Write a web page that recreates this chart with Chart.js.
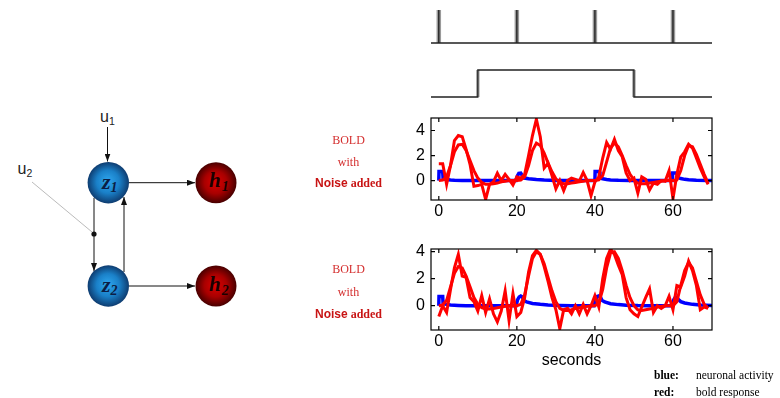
<!DOCTYPE html>
<html>
<head>
<meta charset="UTF-8">
<title>BOLD with noise</title>
<script src="https://cdn.jsdelivr.net/npm/chart.js@4/dist/chart.umd.min.js"></script>
<style>
  body { margin:0; background:#fff; width:780px; height:398px; position:relative; overflow:hidden; }
  canvas, svg, .t { position:absolute; }
  .t { font-family:"Liberation Serif", "Times New Roman", serif; font-size:12px; line-height:16px; height:16px; white-space:nowrap; }
  .red { left:298px; width:101px; text-align:center; color:#d42e2e; }
  .red.n { color:#c81414; font-weight:bold; }
  .red.n span { font-family:"Liberation Sans", Arial, sans-serif; }
  .leg { font-size:11.5px; color:#000; }
</style>
</head>
<body>

<svg width="260" height="398" style="left:0;top:0">
  <defs>
    <radialGradient id="gBlue" cx="50%" cy="50%" r="50%" fx="48%" fy="45%">
      <stop offset="0" stop-color="#2ea6ee"/>
      <stop offset="0.55" stop-color="#1a80c8"/>
      <stop offset="1" stop-color="#0e3c70"/>
    </radialGradient>
    <radialGradient id="gRed" cx="50%" cy="50%" r="50%" fx="48%" fy="48%">
      <stop offset="0" stop-color="#dc0000"/>
      <stop offset="0.55" stop-color="#a80000"/>
      <stop offset="1" stop-color="#480000"/>
    </radialGradient>
    <marker id="ah" markerWidth="8" markerHeight="6" refX="8" refY="3" orient="auto" markerUnits="userSpaceOnUse">
      <path d="M0,0 L8,3 L0,6 z" fill="#111"/>
    </marker>
  </defs>
  <!-- inputs -->
  <text x="100" y="121.5" font-family="Liberation Sans, Arial" font-size="16" fill="#222">u<tspan font-size="10.5" dy="3">1</tspan></text>
  <text x="17.5" y="173.5" font-family="Liberation Sans, Arial" font-size="16" fill="#222">u<tspan font-size="10.5" dy="3">2</tspan></text>
  <line x1="107.5" y1="127" x2="107.5" y2="161.5" stroke="#111" stroke-width="1" marker-end="url(#ah)"/>
  <line x1="32" y1="182" x2="92" y2="232" stroke="#aaa" stroke-width="0.8"/>
  <!-- connections -->
  <line x1="129" y1="182.7" x2="195" y2="182.7" stroke="#111" stroke-width="1" marker-end="url(#ah)"/>
  <line x1="129" y1="286" x2="195" y2="286" stroke="#111" stroke-width="1" marker-end="url(#ah)"/>
  <line x1="94" y1="198" x2="94" y2="271" stroke="#111" stroke-width="1" marker-end="url(#ah)"/>
  <line x1="124" y1="272" x2="124" y2="197" stroke="#111" stroke-width="1" marker-end="url(#ah)"/>
  <circle cx="94" cy="234" r="2.6" fill="#111"/>
  <!-- nodes -->
  <circle cx="108.3" cy="182.7" r="20.7" fill="url(#gBlue)"/>
  <circle cx="108.3" cy="286" r="20.7" fill="url(#gBlue)"/>
  <circle cx="216" cy="182.7" r="20.5" fill="url(#gRed)"/>
  <circle cx="216" cy="286" r="20.5" fill="url(#gRed)"/>
  <text x="102" y="188.5" font-family="Liberation Serif, serif" font-weight="bold" font-style="italic" font-size="22" fill="#0b1e45">z<tspan font-size="14" dy="3">1</tspan></text>
  <text x="102" y="291.5" font-family="Liberation Serif, serif" font-weight="bold" font-style="italic" font-size="22" fill="#0b1e45">z<tspan font-size="14" dy="3">2</tspan></text>
  <text x="209" y="187" font-family="Liberation Serif, serif" font-weight="bold" font-style="italic" font-size="21" fill="#1a0000">h<tspan font-size="14" dx="1" dy="4">1</tspan></text>
  <text x="209" y="290.5" font-family="Liberation Serif, serif" font-weight="bold" font-style="italic" font-size="21" fill="#1a0000">h<tspan font-size="14" dx="1" dy="4">2</tspan></text>
</svg>

<canvas id="u1" width="340" height="55" style="left:380px;top:0"></canvas>
<canvas id="u2" width="340" height="48" style="left:380px;top:58px"></canvas>
<canvas id="cTop" width="340" height="115" style="left:380px;top:108px"></canvas>
<canvas id="cBot" width="340" height="135" style="left:380px;top:239px"></canvas>

<div class="t red" style="top:132px">BOLD</div>
<div class="t red" style="top:153.7px">with</div>
<div class="t red n" style="top:174.7px"><span>Noise</span> added</div>
<div class="t red" style="top:261.3px">BOLD</div>
<div class="t red" style="top:283.7px">with</div>
<div class="t red n" style="top:306.3px"><span>Noise</span> added</div>

<div class="t leg" style="left:654px;top:367px;font-weight:bold">blue:</div>
<div class="t leg" style="left:696px;top:367px">neuronal activity</div>
<div class="t leg" style="left:654px;top:383.5px;font-weight:bold">red:</div>
<div class="t leg" style="left:696px;top:383.5px">bold response</div>

<script>
// time axis
const xMin = -2, xMax = 70;
const xTicks = [0, 20, 40, 60];
const yTicks = [0, 2, 4];

// stimuli
const u1Onsets = [0, 20, 40, 60];
const u2Block = [10, 50];

// bold samples, one per second
const secs = Array.from({length: 70}, (_, i) => i);

// region z1 (top panel)
const boldTop = [0, 0.05, 0.3, 1.2, 2.3, 2.85, 2.9, 2.4, 1.6, 0.8,
  0.2, -0.15, -0.3, -0.3, -0.25, -0.2, -0.1, -0.05, 0, 0,
  0, 0.05, 0.3, 1.2, 2.4, 3.0, 2.8, 2.2, 1.4, 0.7,
  0.15, -0.15, -0.25, -0.25, -0.2, -0.15, -0.1, -0.05, 0, 0,
  0, 0.05, 0.4, 1.5, 2.6, 3.0, 2.7, 2.0, 1.2, 0.5,
  0.05, -0.2, -0.25, -0.25, -0.2, -0.15, -0.1, -0.05, 0, 0,
  0, 0.05, 0.8, 2.0, 2.8, 2.7, 2.1, 1.3, 0.5, -0.2];
const noisyTop = [1.35, 1.35, -0.3, 1.2, 3.2, 3.6, 3.5, 2.5, 1.3, -0.45,
  -0.4, -0.3, -1.5, -0.3, -0.1, 0.6, 0.0, 0.5, 0.1, -0.35,
  0.3, 0.2, 0.5, 2.0, 3.6, 4.9, 3.5, 1.0, 1.4, 0.4,
  -0.65, 0.0, -0.8, 0.0, 0.2, 0.1, -0.05, 0.65, 0.0, -1.2,
  -0.1, 0.3, 1.8, 3.05, 2.5, 3.3, 2.4, 1.9, 0.6, 0.0,
  0.2, -1.0, 0.3, 0.1, -0.75, -0.2, -0.3, 0.0, -0.05, 0.8,
  -1.45, 0.5, 1.9, 2.3, 2.9, 2.6, 1.8, 1.0, 0.3, -0.3];
const neuroTop = [[0, 0], [0.05, 0.72], [1.0, 0.72], [1.1, 0.15], [2, 0.09], [3, 0.05], [4, 0.03], [6, 0.01], [8, 0],
  [19.8, 0], [20.1, 0.35], [20.5, 0.58], [21, 0.6], [21.3, 0.45], [21.6, 0.22], [23, 0.14], [25, 0.08], [27, 0.04], [30, 0.01], [33, 0],
  [40, 0], [40.05, 0.72], [41.1, 0.72], [41.3, 0.2], [42, 0.14], [43, 0.09], [44, 0.05], [46, 0.02], [49, 0],
  [59.8, 0], [59.9, 0.6], [61, 0.6], [61.2, 0.25], [62, 0.16], [63, 0.1], [64, 0.06], [66, 0.03], [69, 0.01], [70, 0]];

// region z2 (bottom panel)
const boldBot = [0, 0.05, 0.4, 1.4, 2.4, 2.9, 2.8, 2.2, 1.4, 0.6,
  0.1, -0.15, -0.25, -0.25, -0.2, -0.15, -0.1, -0.05, 0, 0,
  0, 0.1, 0.8, 2.2, 3.5, 4.0, 3.8, 3.1, 2.1, 1.1,
  0.3, -0.2, -0.35, -0.35, -0.3, -0.2, -0.15, -0.1, -0.05, 0,
  0, 0.2, 1.2, 2.8, 3.9, 4.0, 3.5, 2.6, 1.5, 0.6,
  0, -0.3, -0.35, -0.3, -0.25, -0.2, -0.1, -0.05, 0, 0,
  0, 0.3, 1.5, 2.6, 3.2, 2.8, 1.8, 0.8, 0.1, -0.2];
const noisyBot = [-0.8, 0.0, -0.5, 1.2, 2.8, 3.8, 2.2, 2.1, 0.6, 0.3,
  -0.4, 0.75, -0.5, 0.5, -0.6, -1.2, -0.4, 1.1, -1.1, 0.9,
  -0.8, -0.5, 0.6, 2.5, 3.7, 4.1, 3.8, 2.9, 1.8, 0.6,
  -0.3, -1.7, -0.3, -0.2, -0.6, 0.0, -0.6, 0.1, -0.6, 0.0,
  0.75, -0.1, 2.0, 3.5, 4.2, 3.8, 3.0, 2.3, 0.6, -0.3,
  -0.6, -0.8, -0.1, 0.6, 1.24, -0.5, 0.0, -0.2, 0.0, 0.7,
  -0.3, 1.5, 1.4, 2.2, 3.3, 2.6, 1.5, -0.3, -0.1, -0.2];
const neuroBot = [[0, 0], [0.05, 0.68], [1, 0.68], [1.1, 0.15], [2, 0.1], [3, 0.05], [5, 0.02], [7, 0],
  [19.8, 0], [20.2, 0.45], [20.6, 0.65], [21, 0.72], [21.4, 0.65], [21.8, 0.4], [22.5, 0.28], [24, 0.17], [26, 0.1], [28, 0.05], [31, 0.02], [34, 0],
  [39.8, 0], [40.2, 0.45], [40.6, 0.68], [41, 0.72], [41.4, 0.65], [41.8, 0.4], [42.5, 0.28], [44, 0.15], [46, 0.08], [48, 0.04], [51, 0.01], [54, 0],
  [59.8, 0], [60.2, 0.45], [60.6, 0.62], [61, 0.62], [61.4, 0.45], [62, 0.3], [63, 0.2], [65, 0.1], [67, 0.05], [70, 0.02]];

const FONT = '"Liberation Sans", Arial, sans-serif';
const xy = (t, v) => ({x: t, y: v});

// matlab style box with inward ticks
const frame = {
  id: 'frame',
  afterDraw(chart) {
    const {ctx, chartArea: a, scales: {x, y}} = chart;
    ctx.save();
    ctx.strokeStyle = '#000';
    ctx.lineWidth = 1.2;
    ctx.strokeRect(a.left, a.top, a.right - a.left, a.bottom - a.top);
    ctx.beginPath();
    xTicks.forEach(v => {
      const p = x.getPixelForValue(v);
      ctx.moveTo(p, a.bottom); ctx.lineTo(p, a.bottom - 4);
      ctx.moveTo(p, a.top); ctx.lineTo(p, a.top + 4);
    });
    y.ticks.forEach(t => {
      const p = y.getPixelForValue(t.value);
      ctx.moveTo(a.left, p); ctx.lineTo(a.left + 4, p);
      ctx.moveTo(a.right, p); ctx.lineTo(a.right - 4, p);
    });
    ctx.stroke();
    ctx.restore();
  }
};

function boldChart(id, yMin, yMax, neuro, bold, noisy, axisH, title) {
  new Chart(document.getElementById(id), {
    type: 'line',
    data: {
      datasets: [
        // higher order = drawn first, so red stays on top of blue
        {data: neuro.map(p => xy(p[0], p[1])), borderColor: '#0000ff', borderWidth: 3.5, order: 3},
        {data: bold.map((v, i) => xy(secs[i], v)), borderColor: '#ff0000', borderWidth: 3, order: 2},
        {data: noisy.map((v, i) => xy(secs[i], v)), borderColor: '#ff0000', borderWidth: 3, order: 1}
      ]
    },
    options: {
      responsive: false,
      animation: false,
      devicePixelRatio: 1,
      layout: {padding: {left: 0, right: 8, top: 10, bottom: 0}},
      plugins: {legend: {display: false}, tooltip: {enabled: false}},
      elements: {point: {radius: 0}, line: {tension: 0}},
      scales: {
        x: {
          type: 'linear', min: xMin, max: xMax,
          afterBuildTicks: s => { s.ticks = xTicks.map(v => ({value: v})); },
          afterFit: s => { s.height = axisH; s.paddingLeft = 0; s.paddingRight = 0; },
          grid: {display: false, drawTicks: false},
          border: {display: false},
          ticks: {font: {family: FONT, size: 16}, color: '#000', padding: 2, maxRotation: 0},
          title: {display: !!title, text: title || '', font: {family: FONT, size: 16}, color: '#000', padding: {top: 0, bottom: 4}}
        },
        y: {
          min: yMin, max: yMax,
          afterBuildTicks: s => { s.ticks = yTicks.map(v => ({value: v})); },
          afterFit: s => { s.width = 51; s.paddingTop = 0; s.paddingBottom = 0; },
          grid: {display: false, drawTicks: false},
          border: {display: false},
          ticks: {font: {family: FONT, size: 16}, color: '#000', padding: 6}
        }
      }
    },
    plugins: [frame]
  });
}

function stimChart(id, pad, datasets) {
  new Chart(document.getElementById(id), {
    type: 'line',
    data: {datasets: datasets},
    options: {
      responsive: false,
      animation: false,
      devicePixelRatio: 1,
      layout: {padding: pad},
      plugins: {legend: {display: false}, tooltip: {enabled: false}},
      elements: {point: {radius: 0}, line: {tension: 0}},
      scales: {
        x: {type: 'linear', min: xMin, max: xMax, display: false},
        y: {min: 0, max: 1, display: false}
      }
    }
  });
}

// u1: brief events
const spikes = u1Onsets.flatMap(t => [xy(t, 0), xy(t, 1), xy(t, null)]);
const u1Line = [xy(xMin, 0)].concat(u1Onsets.flatMap(t => [xy(t, 0), xy(t, 1), xy(t, 0)]), [xy(xMax, 0)]);
stimChart('u1', {left: 51, right: 8, top: 10, bottom: 12}, [
  {data: u1Line, borderColor: '#222', borderWidth: 1.4, clip: false, order: 1},
  {data: spikes, borderColor: '#9a9a9a', borderWidth: 4.5, spanGaps: false, clip: false, order: 2}
]);

// u2: sustained block
const edges = [xy(u2Block[0], 0), xy(u2Block[0], 1), xy(u2Block[0], null), xy(u2Block[1], 1), xy(u2Block[1], 0)];
const u2Line = [xy(xMin, 0), xy(u2Block[0], 0), xy(u2Block[0], 1), xy(u2Block[1], 1), xy(u2Block[1], 0), xy(xMax, 0)];
stimChart('u2', {left: 51, right: 8, top: 12, bottom: 9}, [
  {data: u2Line, borderColor: '#222', borderWidth: 1.3, clip: false, order: 1},
  {data: edges, borderColor: '#a8a8a8', borderWidth: 3.5, spanGaps: false, clip: false, order: 2}
]);

boldChart('cTop', -1.55, 5.0, neuroTop, boldTop, noisyTop, 23, null);
boldChart('cBot', -1.8, 4.2, neuroBot, boldBot, noisyBot, 44, 'seconds');
</script>
</body>
</html>
